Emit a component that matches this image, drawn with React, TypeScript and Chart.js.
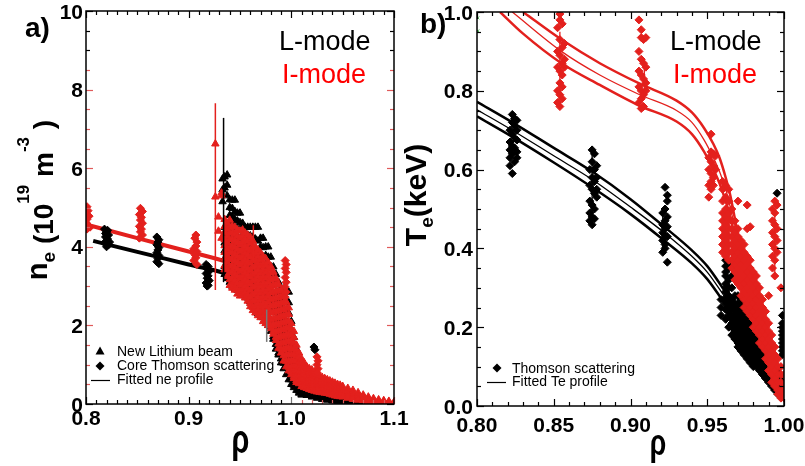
import React, { useEffect, useRef } from 'react';
import { Chart, registerables } from 'chart.js';

Chart.register(...registerables);

const FONT = "'Liberation Sans', Arial, Helvetica, sans-serif";
const RED = '#e3201d';
const LABEL_RED = '#ff0000';
const TICK_RED = '#e05a5a';

// ---------------- Panel a : density ----------------
const neXTicks = [0.8, 0.9, 1.0, 1.1];
const neYTicks = [0, 2, 4, 6, 8, 10];

// Core Thomson scattering, L-mode  [rho, ne]
const neThomsonL: number[][] = [
  [0.818, 4.45], [0.82, 4.38], [0.822, 4.3], [0.819, 4.25], [0.821, 4.2], [0.82, 4.15], [0.818, 4.1], [0.822, 4.05], [0.82, 4.0], [0.819, 4.34], [0.821, 4.42], [0.82, 4.27], [0.823, 4.12],
  [0.869, 4.25], [0.871, 4.18], [0.87, 4.12], [0.869, 4.05], [0.871, 3.98], [0.87, 3.92], [0.869, 3.85], [0.871, 3.78], [0.87, 3.7], [0.869, 3.62], [0.871, 3.57],
  [0.917, 3.55], [0.919, 3.5], [0.918, 3.44], [0.92, 3.38], [0.917, 3.32], [0.919, 3.26], [0.918, 3.2], [0.92, 3.14], [0.917, 3.08], [0.919, 3.02], [0.918, 3.0],
  [1.022, 1.45], [1.023, 1.38],
];
// Core Thomson scattering, I-mode
const neThomsonI: number[][] = [
  [0.801, 5.02], [0.802, 4.92], [0.8, 4.85], [0.803, 4.78], [0.801, 4.7], [0.8, 4.62], [0.802, 4.55], [0.804, 4.5], [0.801, 4.45],
  [0.853, 4.98], [0.855, 4.9], [0.852, 4.82], [0.854, 4.75], [0.853, 4.68], [0.855, 4.6], [0.852, 4.52], [0.854, 4.45], [0.853, 4.38], [0.855, 4.3], [0.852, 4.22],
  [0.907, 4.3], [0.906, 4.22], [0.908, 4.12], [0.907, 4.02], [0.905, 3.95], [0.908, 3.88], [0.906, 3.8], [0.907, 3.72], [0.905, 3.65], [0.908, 3.55],
  [0.994, 3.65], [0.995, 3.55], [0.994, 3.45], [0.995, 3.35], [0.994, 3.22], [0.995, 3.1], [0.994, 2.98], [0.995, 2.85], [0.994, 2.72],
  [1.025, 1.2], [1.026, 1.1], [1.025, 1.0], [1.026, 0.9], [1.025, 0.8],
];
// New Lithium beam, I-mode  [rho, ne values...]
const neLiBeamI: number[][] = [
  [0.926, 6.62, 5.27], [0.929, 4.76, 4.4], [0.932, 5.37, 5.3, 4.22],
  [0.935, 4.7, 4.52, 4.37, 4.18, 4.03, 3.86, 3.7, 3.52, 3.42],
  [0.9375, 4.6, 4.44, 4.27, 4.1, 3.94, 3.77, 3.6, 3.43, 3.25],
  [0.94, 4.68, 4.5, 4.35, 4.18, 4.0, 3.85, 3.68, 3.5, 3.34, 3.17, 3.02],
  [0.9425, 4.52, 4.36, 4.19, 4.03, 3.86, 3.7, 3.53, 3.37, 3.2, 3.05, 2.95],
  [0.945, 4.5, 4.32, 4.15, 3.98, 3.81, 3.64, 3.47, 3.3, 3.13, 2.97, 2.9],
  [0.9475, 4.43, 4.27, 4.1, 3.93, 3.76, 3.59, 3.42, 3.25, 3.08, 2.92, 2.8],
  [0.95, 4.4, 4.22, 4.05, 3.88, 3.71, 3.54, 3.37, 3.2, 3.03, 2.87, 2.75],
  [0.9525, 4.43, 4.27, 4.1, 3.93, 3.76, 3.59, 3.42, 3.25, 3.08, 2.91, 2.76],
  [0.955, 4.35, 4.18, 4.01, 3.84, 3.67, 3.5, 3.33, 3.16, 2.99, 2.83, 2.7],
  [0.9575, 4.3, 4.13, 3.96, 3.79, 3.62, 3.45, 3.28, 3.11, 2.94, 2.77, 2.62],
  [0.96, 4.25, 4.08, 3.91, 3.74, 3.57, 3.4, 3.23, 3.06, 2.89, 2.72, 2.56, 2.48],
  [0.9625, 4.15, 3.98, 3.81, 3.64, 3.47, 3.3, 3.13, 2.96, 2.79, 2.62, 2.46, 2.38],
  [0.965, 4.0, 3.84, 3.67, 3.5, 3.33, 3.16, 2.99, 2.82, 2.65, 2.48, 2.32],
  [0.9675, 3.92, 3.75, 3.58, 3.41, 3.24, 3.07, 2.9, 2.73, 2.56, 2.4, 2.25],
  [0.97, 3.85, 3.68, 3.51, 3.34, 3.17, 3.0, 2.83, 2.66, 2.49, 2.33, 2.2],
  [0.9725, 3.75, 3.58, 3.41, 3.24, 3.07, 2.9, 2.73, 2.56, 2.39, 2.23, 2.1],
  [0.975, 3.7, 3.53, 3.36, 3.19, 3.02, 2.85, 2.68, 2.51, 2.34, 2.18, 2.05],
  [0.9775, 3.6, 3.43, 3.26, 3.09, 2.92, 2.75, 2.58, 2.41, 2.24, 2.08, 2.0],
  [0.98, 3.5, 3.34, 3.17, 3.0, 2.83, 2.66, 2.49, 2.32, 2.15, 1.99, 1.92],
  [0.9825, 3.36, 3.19, 3.02, 2.85, 2.68, 2.51, 2.34, 2.17, 2.0, 1.85, 1.78],
  [0.985, 3.2, 3.04, 2.87, 2.7, 2.53, 2.36, 2.19, 2.02, 1.85, 1.7, 1.62],
  [0.9875, 3.05, 2.88, 2.71, 2.54, 2.37, 2.2, 2.03, 1.86, 1.69, 1.53, 1.42],
  [0.99, 2.9, 2.74, 2.57, 2.4, 2.23, 2.06, 1.89, 1.72, 1.55, 1.4, 1.3],
  [0.9925, 2.75, 2.58, 2.41, 2.24, 2.07, 1.9, 1.73, 1.56, 1.39, 1.23, 1.1],
  [0.995, 2.6, 2.44, 2.27, 2.1, 1.93, 1.76, 1.59, 1.42, 1.25, 1.09, 0.95],
  [0.9975, 2.45, 2.28, 2.11, 1.94, 1.77, 1.6, 1.43, 1.26, 1.09, 0.94, 0.85],
  [1.0, 2.05, 1.9, 1.74, 1.58, 1.42, 1.26, 1.1, 0.95, 0.82, 0.75],
  [1.0025, 1.85, 1.7, 1.55, 1.4, 1.25, 1.1, 0.96, 0.83, 0.7, 0.65],
  [1.005, 1.5, 1.37, 1.24, 1.11, 0.98, 0.85, 0.72, 0.6, 0.55],
  [1.0075, 1.3, 1.18, 1.06, 0.94, 0.82, 0.7, 0.6, 0.52],
  [1.01, 1.15, 1.04, 0.93, 0.82, 0.71, 0.61, 0.52, 0.45],
  [1.0125, 1.05, 0.95, 0.85, 0.75, 0.65, 0.56, 0.48, 0.42],
  [1.015, 0.95, 0.86, 0.77, 0.68, 0.59, 0.51, 0.44, 0.4],
  [1.0175, 0.9, 0.81, 0.72, 0.63, 0.55, 0.47, 0.41, 0.37],
  [1.02, 0.87, 0.78, 0.69, 0.6, 0.52, 0.45, 0.39, 0.35],
  [1.0225, 0.82, 0.73, 0.64, 0.56, 0.48, 0.41, 0.35, 0.33],
  [1.025, 0.76, 0.68, 0.6, 0.52, 0.45, 0.38, 0.31],
  [1.0275, 0.72, 0.64, 0.56, 0.48, 0.41, 0.35, 0.3],
  [1.03, 0.68, 0.6, 0.52, 0.45, 0.38, 0.32, 0.29],
  [1.0325, 0.65, 0.57, 0.49, 0.42, 0.35, 0.3, 0.28],
  [1.035, 0.62, 0.54, 0.46, 0.39, 0.33, 0.27],
  [1.0375, 0.59, 0.51, 0.44, 0.37, 0.3, 0.25],
  [1.04, 0.56, 0.48, 0.41, 0.34, 0.28, 0.23],
  [1.0425, 0.53, 0.46, 0.39, 0.32, 0.26, 0.21],
  [1.045, 0.5, 0.43, 0.36, 0.3, 0.25, 0.2],
  [1.0475, 0.48, 0.41, 0.34, 0.28, 0.23, 0.19],
  [1.05, 0.45, 0.38, 0.32, 0.26, 0.21, 0.18],
  [1.055, 0.4, 0.34, 0.28, 0.23, 0.18, 0.15],
  [1.06, 0.35, 0.29, 0.24, 0.19, 0.15, 0.12],
  [1.065, 0.29, 0.24, 0.19, 0.15, 0.12, 0.1],
  [1.07, 0.23, 0.19, 0.15, 0.12, 0.09],
  [1.075, 0.18, 0.15, 0.12, 0.09, 0.07],
  [1.08, 0.14, 0.11, 0.08, 0.06],
  [1.085, 0.11, 0.08, 0.06, 0.04],
  [1.09, 0.09, 0.06, 0.04, 0.03],
  [1.095, 0.07, 0.05, 0.03],
  [1.1, 0.05, 0.03, 0.02],
];
// New Lithium beam, L-mode
const neLiBeamL: number[][] = [
  [0.933, 5.73, 5.45, 5.15],
  [0.935, 5.78, 5.5, 4.5, 4.3, 4.1, 3.9, 3.7, 3.5, 3.3],
  [0.9375, 5.83, 5.57, 5.3, 4.4, 4.2, 4.0, 3.8, 3.6, 3.4, 3.2],
  [0.94, 5.2, 5.0, 4.8, 4.6, 4.4, 4.2, 4.0, 3.8, 3.6, 3.4, 3.2, 3.1],
  [0.9425, 5.19, 4.98, 4.77, 4.56, 4.35, 4.14, 3.93, 3.72, 3.51, 3.3, 3.1, 3.0],
  [0.945, 5.19, 4.9, 4.7, 4.5, 4.3, 4.1, 3.9, 3.7, 3.5, 3.3, 3.1, 2.95],
  [0.9475, 4.86, 4.66, 4.46, 4.26, 4.06, 3.86, 3.66, 3.46, 3.26, 3.06, 2.9],
  [0.95, 4.86, 4.62, 4.42, 4.22, 4.02, 3.82, 3.62, 3.42, 3.22, 3.02, 2.85],
  [0.9525, 4.6, 4.5, 4.3, 4.1, 3.9, 3.7, 3.5, 3.3, 3.1, 2.92, 2.8],
  [0.955, 4.5, 4.35, 4.15, 3.95, 3.75, 3.55, 3.35, 3.15, 2.95, 2.75],
  [0.9575, 4.5, 4.3, 4.1, 3.9, 3.7, 3.5, 3.3, 3.1, 2.9, 2.7],
  [0.96, 4.5, 4.28, 4.06, 3.84, 3.62, 3.4, 3.18, 2.96, 2.78, 2.6],
  [0.9625, 4.5, 4.25, 4.0, 3.78, 3.56, 3.34, 3.12, 2.9, 2.7, 2.5],
  [0.965, 4.5, 4.2, 3.95, 3.72, 3.5, 3.28, 3.06, 2.84, 2.62, 2.4],
  [0.9675, 4.5, 4.15, 3.9, 3.66, 3.44, 3.22, 3.0, 2.78, 2.56, 2.3],
  [0.97, 4.22, 4.0, 3.78, 3.56, 3.34, 3.12, 2.9, 2.68, 2.46, 2.25],
  [0.9725, 4.22, 3.98, 3.74, 3.5, 3.26, 3.02, 2.8, 2.58, 2.38, 2.2],
  [0.975, 4.0, 3.78, 3.56, 3.34, 3.12, 2.9, 2.68, 2.46, 2.28, 2.15],
  [0.9775, 4.0, 3.74, 3.5, 3.26, 3.02, 2.8, 2.58, 2.36, 2.16, 2.0],
  [0.98, 3.74, 3.5, 3.26, 3.02, 2.8, 2.58, 2.36, 2.14, 1.96, 1.85],
  [0.9825, 3.49, 3.26, 3.03, 2.8, 2.57, 2.34, 2.12, 1.9, 1.72, 1.65],
  [0.985, 3.3, 3.07, 2.84, 2.61, 2.38, 2.15, 1.92, 1.7, 1.52, 1.4],
  [0.9875, 3.1, 2.87, 2.64, 2.41, 2.18, 1.95, 1.72, 1.5, 1.3, 1.25],
  [0.99, 2.95, 2.72, 2.49, 2.26, 2.03, 1.8, 1.57, 1.35, 1.15, 1.05],
  [0.9925, 2.9, 2.66, 2.42, 2.18, 1.94, 1.7, 1.46, 1.24, 1.04, 0.9],
  [0.995, 2.9, 2.64, 2.38, 2.12, 1.86, 1.6, 1.36, 1.12, 0.92, 0.75],
  [0.9975, 2.85, 2.58, 2.31, 2.04, 1.77, 1.5, 1.25, 1.0, 0.8, 0.62],
  [1.0, 2.1, 1.88, 1.66, 1.44, 1.22, 1.0, 0.8, 0.62, 0.5],
  [1.0025, 1.7, 1.5, 1.3, 1.1, 0.92, 0.75, 0.6, 0.48, 0.42],
  [1.005, 1.4, 1.22, 1.04, 0.87, 0.71, 0.57, 0.45, 0.35],
  [1.0075, 1.1, 0.95, 0.8, 0.66, 0.53, 0.42, 0.33, 0.28],
  [1.01, 0.9, 0.77, 0.64, 0.52, 0.41, 0.32, 0.25, 0.23],
  [1.015, 0.7, 0.59, 0.48, 0.38, 0.3, 0.22],
  [1.02, 0.55, 0.46, 0.37, 0.29, 0.22, 0.18],
  [1.025, 0.45, 0.37, 0.29, 0.22, 0.15],
  [1.03, 0.38, 0.3, 0.23, 0.17, 0.12],
  [1.035, 0.3, 0.23, 0.17, 0.13, 0.1],
  [1.04, 0.25, 0.19, 0.14, 0.1, 0.08],
  [1.045, 0.2, 0.15, 0.11, 0.08, 0.06],
  [1.05, 0.15, 0.11, 0.08, 0.05],
  [1.055, 0.12, 0.09, 0.06, 0.04],
  [1.06, 0.1, 0.07, 0.05, 0.03],
  [1.065, 0.08, 0.05, 0.03],
  [1.07, 0.07, 0.04, 0.02],
  [1.075, 0.06, 0.035, 0.015],
  [1.08, 0.05, 0.03, 0.01],
  [1.085, 0.04, 0.02, 0.01],
  [1.09, 0.03, 0.02, 0.01],
  [1.095, 0.025, 0.015, 0.005],
  [1.1, 0.02, 0.01, 0.0],
];
// Fitted ne profiles
const neFitL: number[][] = [[0.807, 4.15], [0.85, 3.87], [0.9, 3.55], [0.941, 3.28], [0.96, 3.05], [0.97, 2.85], [0.98, 2.55], [0.99, 2.0], [1.0, 1.3], [1.01, 0.7], [1.02, 0.38], [1.04, 0.15], [1.06, 0.06], [1.08, 0.02], [1.1, 0.01]];
const neFitI: number[][] = [[0.8, 4.57], [0.85, 4.22], [0.9, 3.88], [0.941, 3.59], [0.96, 3.42], [0.97, 3.25], [0.98, 2.95], [0.99, 2.35], [1.0, 1.6], [1.01, 0.95], [1.02, 0.6], [1.04, 0.3], [1.06, 0.14], [1.08, 0.06], [1.1, 0.03]];
// Error bars [rho, low, high]
const neErrI: number[][] = [[0.926, 2.9, 7.65], [0.963, 3.6, 4.55]];
const neErrL: number[][] = [[0.934, 3.1, 7.28]];
const neErrGrey: number[][] = [[0.976, 1.58, 2.4]];

// ---------------- Panel b : temperature ----------------
const teXTicks = [0.8, 0.85, 0.9, 0.95, 1.0];
const teYTicks = [0, 0.2, 0.4, 0.6, 0.8, 1.0];

// Thomson scattering, L-mode  [rho, Te values...]
const teThomsonL: number[][] = [
  [0.8215, 0.7, 0.67, 0.65, 0.63, 0.61], [0.823, 0.74, 0.72, 0.69, 0.66, 0.64, 0.59],
  [0.8245, 0.73, 0.71, 0.68, 0.655, 0.62], [0.826, 0.725, 0.7, 0.675, 0.645, 0.63],
  [0.8735, 0.6, 0.56, 0.52, 0.49, 0.47], [0.875, 0.65, 0.62, 0.58, 0.55, 0.51, 0.48, 0.46],
  [0.8765, 0.64, 0.6, 0.57, 0.54, 0.5, 0.475], [0.878, 0.61, 0.58, 0.55, 0.53],
  [0.921, 0.49, 0.46, 0.44, 0.42, 0.39], [0.9225, 0.555, 0.5, 0.47, 0.45, 0.43, 0.41, 0.4],
  [0.924, 0.535, 0.52, 0.48, 0.455, 0.43, 0.365],
  [0.959, 0.27, 0.25, 0.23],
  [0.962, 0.37, 0.355, 0.34, 0.33, 0.31, 0.3, 0.29, 0.275, 0.26, 0.245, 0.22],
  [0.964, 0.36, 0.35, 0.32, 0.3, 0.28, 0.27, 0.25, 0.24, 0.23, 0.2],
  [0.966, 0.33, 0.3, 0.27, 0.26, 0.25, 0.23, 0.22, 0.21, 0.2, 0.18],
  [0.968, 0.28, 0.26, 0.25, 0.24, 0.23, 0.22, 0.21, 0.2, 0.19, 0.18, 0.17],
  [0.97, 0.28, 0.26, 0.245, 0.23, 0.22, 0.21, 0.2, 0.19, 0.18, 0.17, 0.16, 0.15],
  [0.972, 0.27, 0.25, 0.24, 0.23, 0.22, 0.21, 0.2, 0.19, 0.18, 0.17, 0.16, 0.15, 0.14],
  [0.974, 0.26, 0.245, 0.23, 0.22, 0.21, 0.2, 0.19, 0.18, 0.17, 0.16, 0.15, 0.14, 0.13],
  [0.976, 0.25, 0.24, 0.22, 0.21, 0.2, 0.19, 0.18, 0.17, 0.16, 0.15, 0.14, 0.13, 0.12],
  [0.978, 0.24, 0.22, 0.21, 0.2, 0.19, 0.18, 0.17, 0.16, 0.15, 0.14, 0.13, 0.12, 0.11],
  [0.98, 0.24, 0.22, 0.2, 0.19, 0.18, 0.17, 0.16, 0.15, 0.14, 0.13, 0.12, 0.11, 0.1],
  [0.982, 0.23, 0.21, 0.18, 0.17, 0.16, 0.15, 0.14, 0.13, 0.12, 0.11, 0.1],
  [0.984, 0.2, 0.18, 0.16, 0.15, 0.14, 0.13, 0.12, 0.11, 0.1, 0.09],
  [0.986, 0.18, 0.16, 0.14, 0.13, 0.12, 0.11, 0.1, 0.09, 0.08],
  [0.988, 0.15, 0.13, 0.12, 0.11, 0.1, 0.09, 0.08, 0.07],
  [0.99, 0.13, 0.11, 0.1, 0.09, 0.08, 0.07, 0.06],
  [0.992, 0.1, 0.09, 0.08, 0.07, 0.06, 0.05],
  [0.994, 0.09, 0.08, 0.07, 0.06, 0.05, 0.04],
  [0.996, 0.08, 0.07, 0.06, 0.05, 0.04, 0.03],
  [0.9955, 0.54],
  [0.999, 0.23, 0.21, 0.2, 0.19, 0.18, 0.17, 0.16, 0.15, 0.14, 0.13, 0.06, 0.05, 0.04, 0.03],
];
// Thomson scattering, I-mode
const teThomsonI: number[][] = [
  [0.8525, 0.96, 0.9, 0.86, 0.8, 0.77], [0.854, 0.995, 0.98, 0.93, 0.89, 0.85, 0.82, 0.79, 0.76],
  [0.8555, 0.97, 0.91, 0.87, 0.84, 0.81, 0.78], [0.857, 0.92, 0.88, 0.86],
  [0.9055, 0.98, 0.9, 0.85, 0.81, 0.77], [0.907, 0.955, 0.935, 0.88, 0.84, 0.8, 0.78, 0.755],
  [0.9085, 0.93, 0.87, 0.83, 0.79, 0.76], [0.91, 0.935, 0.86, 0.82, 0.8],
  [0.951, 0.63, 0.6, 0.56, 0.53], [0.9525, 0.69, 0.645, 0.62, 0.59, 0.57, 0.55],
  [0.954, 0.64, 0.61, 0.58, 0.56], [0.9555, 0.635, 0.6],
  [0.96, 0.57, 0.55, 0.52, 0.49, 0.47, 0.45, 0.43, 0.41, 0.39],
  [0.962, 0.56, 0.53, 0.5, 0.48, 0.46, 0.44, 0.42, 0.4, 0.38],
  [0.964, 0.55, 0.52, 0.49, 0.47, 0.45, 0.43, 0.41, 0.39, 0.37],
  [0.966, 0.5, 0.47, 0.45, 0.43, 0.41, 0.39, 0.37, 0.35],
  [0.968, 0.47, 0.44, 0.42, 0.4, 0.38, 0.36, 0.34, 0.32],
  [0.97, 0.52, 0.45, 0.43, 0.41, 0.39, 0.37, 0.35, 0.33, 0.31],
  [0.972, 0.42, 0.4, 0.38, 0.36, 0.34, 0.32, 0.3, 0.28],
  [0.974, 0.41, 0.39, 0.37, 0.35, 0.33, 0.31, 0.29, 0.27, 0.25],
  [0.976, 0.51, 0.45, 0.38, 0.36, 0.34, 0.32, 0.3, 0.28, 0.26, 0.24],
  [0.978, 0.455, 0.37, 0.35, 0.33, 0.31, 0.29, 0.27, 0.25, 0.23],
  [0.98, 0.34, 0.32, 0.3, 0.28, 0.26, 0.24, 0.22, 0.2],
  [0.982, 0.33, 0.31, 0.29, 0.27, 0.25, 0.23, 0.21, 0.19],
  [0.984, 0.3, 0.28, 0.26, 0.24, 0.22, 0.2, 0.18, 0.16],
  [0.986, 0.27, 0.25, 0.23, 0.21, 0.19, 0.17, 0.15],
  [0.988, 0.24, 0.22, 0.2, 0.18, 0.16, 0.14, 0.12],
  [0.99, 0.28, 0.21, 0.19, 0.17, 0.15, 0.13, 0.11, 0.09],
  [0.992, 0.18, 0.16, 0.14, 0.12, 0.1, 0.08, 0.06],
  [0.994, 0.15, 0.13, 0.11, 0.09, 0.07, 0.05],
  [0.996, 0.12, 0.1, 0.08, 0.06, 0.04, 0.03],
  [0.998, 0.3, 0.1, 0.08, 0.06, 0.04, 0.02],
  [1.0, 0.08, 0.05, 0.03, 0.02],
  [0.9925, 0.5, 0.47, 0.44, 0.41, 0.38, 0.35],
  [0.994, 0.52, 0.49, 0.46, 0.43, 0.4, 0.37, 0.33],
  [0.9955, 0.51, 0.45, 0.42, 0.39],
];
// Fitted Te profiles (upper / centre / lower)
const teFitLUpper: number[][] = [[0.8, 0.772], [0.823, 0.72], [0.85, 0.655], [0.875, 0.595], [0.9, 0.525], [0.922, 0.455], [0.94, 0.395], [0.95, 0.355], [0.96, 0.3], [0.965, 0.27], [0.97, 0.235], [0.98, 0.18], [0.99, 0.125], [1.0, 0.075]];
const teFitLMid: number[][] = [[0.8, 0.752], [0.823, 0.7], [0.85, 0.635], [0.875, 0.575], [0.9, 0.505], [0.922, 0.44], [0.94, 0.38], [0.95, 0.34], [0.96, 0.285], [0.965, 0.255], [0.97, 0.22], [0.98, 0.168], [0.99, 0.115], [1.0, 0.068]];
const teFitLLower: number[][] = [[0.8, 0.735], [0.823, 0.683], [0.85, 0.618], [0.875, 0.555], [0.9, 0.487], [0.922, 0.42], [0.94, 0.362], [0.95, 0.322], [0.96, 0.268], [0.965, 0.24], [0.97, 0.205], [0.98, 0.155], [0.99, 0.105], [1.0, 0.06]];
const teFitIUpper: number[][] = [[0.83, 1.0], [0.855, 0.93], [0.88, 0.87], [0.906, 0.818], [0.93, 0.775], [0.94, 0.745], [0.948, 0.705], [0.954, 0.665], [0.958, 0.63], [0.962, 0.58], [0.965, 0.535], [0.968, 0.475], [0.971, 0.41], [0.975, 0.34], [0.98, 0.28], [0.985, 0.22], [0.99, 0.16], [0.995, 0.11], [1.0, 0.07]];
const teFitIMid: number[][] = [[0.823, 1.0], [0.855, 0.9], [0.88, 0.84], [0.906, 0.79], [0.93, 0.75], [0.94, 0.72], [0.948, 0.675], [0.954, 0.63], [0.958, 0.595], [0.962, 0.55], [0.965, 0.505], [0.968, 0.45], [0.971, 0.39], [0.975, 0.32], [0.98, 0.26], [0.985, 0.2], [0.99, 0.145], [0.995, 0.1], [1.0, 0.06]];
const teFitILower: number[][] = [[0.815, 1.0], [0.83, 0.945], [0.855, 0.87], [0.88, 0.815], [0.906, 0.762], [0.93, 0.722], [0.94, 0.69], [0.948, 0.645], [0.954, 0.6], [0.958, 0.565], [0.962, 0.52], [0.965, 0.48], [0.968, 0.425], [0.971, 0.37], [0.975, 0.3], [0.98, 0.24], [0.985, 0.18], [0.99, 0.13], [0.995, 0.09], [1.0, 0.05]];
const teErrI: number[][] = [[0.854, 0.78, 0.95], [0.909, 0.78, 0.88], [0.994, 0.33, 0.5]];
const teErrL: number[][] = [[0.875, 0.48, 0.66], [0.921, 0.39, 0.49]];
const teGreenMarks: number[][] = [[0.8005, 0.985], [0.8005, 0.952]];

// ---------------- helpers ----------------
type Pt = { x: number; y: number | null };
const pairs = (arr: number[][]): Pt[] => arr.map(([x, y]) => ({ x, y }));
const columns = (cols: number[][]): Pt[] => cols.flatMap(([x, ...ys]) => ys.map((y) => ({ x, y })));
const bars = (arr: number[][]): Pt[] => arr.flatMap(([x, lo, hi]) => [{ x, y: lo }, { x, y: hi }, { x, y: null }]);

const pointsDs = (data: Pt[], style: string, color: string, r: number, order: number) => ({
  data, showLine: false, pointStyle: style, pointRadius: r, pointHoverRadius: r,
  pointBackgroundColor: color, pointBorderColor: color, pointBorderWidth: 1, order,
});
const curveDs = (data: Pt[], color: string, width: number, order: number, smooth = true) => ({
  data, showLine: true, borderColor: color, borderWidth: width, pointRadius: 0, pointHoverRadius: 0,
  cubicInterpolationMode: smooth ? 'monotone' : 'default', tension: 0, spanGaps: false, fill: false, order,
});

function steps(min: number, max: number, step: number): number[] {
  const n = Math.round((max - min) / step);
  const out: number[] = [];
  for (let i = 0; i <= n; i++) out.push(min + i * step);
  return out;
}
const isMajor = (v: number, majors: number[]) => majors.some((m) => Math.abs(m - v) < 1e-6);

interface FrameSpec {
  xMin: number; xMax: number; xMajor: number[]; xMinor: number; xDigits: number; xLabelBaseline: number;
  yMin: number; yMax: number; yMajor: number[]; yMinor: number; yDigits: number; yLabelRight: number;
  xTickColor: (v: number, side: string) => string;
  yTickColor: (v: number) => string;
  decorate: (ctx: CanvasRenderingContext2D) => void;
}

function framePlugin(id: string, s: FrameSpec) {
  return {
    id,
    afterDraw(chart: any) {
      const ctx: CanvasRenderingContext2D = chart.ctx;
      const { left, right, top, bottom } = chart.chartArea;
      const xs = chart.scales.x;
      const ys = chart.scales.y;
      ctx.save();
      ctx.lineWidth = 1.2;
      for (const v of steps(s.xMin, s.xMax, s.xMinor)) {
        const px = Math.round(xs.getPixelForValue(v)) + 0.5;
        const len = isMajor(v, s.xMajor) ? 7 : 4;
        ctx.strokeStyle = s.xTickColor(v, 'bottom');
        ctx.beginPath(); ctx.moveTo(px, bottom); ctx.lineTo(px, bottom - len); ctx.stroke();
        ctx.strokeStyle = s.xTickColor(v, 'top');
        ctx.beginPath(); ctx.moveTo(px, top); ctx.lineTo(px, top + len); ctx.stroke();
      }
      for (const v of steps(s.yMin, s.yMax, s.yMinor)) {
        const py = Math.round(ys.getPixelForValue(v)) + 0.5;
        const len = isMajor(v, s.yMajor) ? 7 : 4;
        ctx.strokeStyle = s.yTickColor(v);
        ctx.beginPath(); ctx.moveTo(left, py); ctx.lineTo(left + len, py); ctx.stroke();
        ctx.beginPath(); ctx.moveTo(right, py); ctx.lineTo(right - len, py); ctx.stroke();
      }
      ctx.strokeStyle = '#000';
      ctx.lineWidth = 1.5;
      ctx.strokeRect(left, top, right - left, bottom - top);

      ctx.fillStyle = '#000';
      ctx.font = `bold 21px ${FONT}`;
      ctx.textBaseline = 'alphabetic';
      ctx.textAlign = 'center';
      for (const v of s.xMajor) ctx.fillText(v.toFixed(s.xDigits), xs.getPixelForValue(v), s.xLabelBaseline);
      ctx.textAlign = 'right';
      for (const v of s.yMajor) ctx.fillText(v.toFixed(s.yDigits), s.yLabelRight, ys.getPixelForValue(v) + 7.5);

      s.decorate(ctx);
      ctx.restore();
    },
  };
}

type Part = { t: string; size: number; dy: number };
function drawRotated(ctx: CanvasRenderingContext2D, cx: number, cy: number, parts: Part[]) {
  ctx.save();
  ctx.translate(cx, cy);
  ctx.rotate(-Math.PI / 2);
  ctx.textAlign = 'left';
  ctx.textBaseline = 'alphabetic';
  ctx.fillStyle = '#000';
  let total = 0;
  for (const p of parts) { ctx.font = `bold ${p.size}px ${FONT}`; total += ctx.measureText(p.t).width; }
  let cur = -total / 2;
  for (const p of parts) {
    ctx.font = `bold ${p.size}px ${FONT}`;
    ctx.fillText(p.t, cur, p.dy);
    cur += ctx.measureText(p.t).width;
  }
  ctx.restore();
}
function drawRho(ctx: CanvasRenderingContext2D, cx: number, base: number, size: number) {
  ctx.save();
  ctx.translate(cx, base);
  ctx.scale(0.72, 1);
  ctx.font = `bold ${size}px ${FONT}`;
  ctx.textAlign = 'center';
  ctx.textBaseline = 'alphabetic';
  ctx.fillStyle = '#000';
  ctx.fillText('ρ', 0, 0);
  ctx.restore();
}
function legendTri(ctx: CanvasRenderingContext2D, x: number, y: number) {
  ctx.beginPath(); ctx.moveTo(x, y - 4.5); ctx.lineTo(x + 4.5, y + 3.5); ctx.lineTo(x - 4.5, y + 3.5); ctx.closePath(); ctx.fill();
}
function legendDiamond(ctx: CanvasRenderingContext2D, x: number, y: number) {
  ctx.beginPath(); ctx.moveTo(x, y - 4.5); ctx.lineTo(x + 4.5, y); ctx.lineTo(x, y + 4.5); ctx.lineTo(x - 4.5, y); ctx.closePath(); ctx.fill();
}

function decorateA(ctx: CanvasRenderingContext2D) {
  ctx.textAlign = 'left';
  ctx.textBaseline = 'alphabetic';
  ctx.fillStyle = '#000';
  ctx.font = `bold 28px ${FONT}`;
  ctx.fillText('a)', 25, 37);
  ctx.font = `27px ${FONT}`;
  ctx.fillText('L-mode', 279, 50);
  ctx.fillStyle = LABEL_RED;
  ctx.fillText('I-mode', 282, 83);
  ctx.fillStyle = '#000';
  ctx.font = `14px ${FONT}`;
  ctx.textBaseline = 'middle';
  legendTri(ctx, 100, 351);
  ctx.fillText('New Lithium beam', 117, 352);
  legendDiamond(ctx, 100, 366);
  ctx.fillText('Core Thomson scattering', 117, 366);
  ctx.strokeStyle = '#000'; ctx.lineWidth = 1.2;
  ctx.beginPath(); ctx.moveTo(91, 380.5); ctx.lineTo(110, 380.5); ctx.stroke();
  ctx.fillText('Fitted ne profile', 117, 380);
  drawRotated(ctx, 53, 200, [
    { t: 'n', size: 29, dy: -6 }, { t: 'e', size: 19, dy: 2 }, { t: ' (10', size: 28, dy: 0 },
    { t: '19', size: 17, dy: -24 }, { t: ' m', size: 28, dy: 0 }, { t: '-3', size: 17, dy: -24 }, { t: ' )', size: 28, dy: 0 },
  ]);
  drawRho(ctx, 240.5, 453, 40);
}
function decorateB(ctx: CanvasRenderingContext2D) {
  ctx.textAlign = 'left';
  ctx.textBaseline = 'alphabetic';
  ctx.fillStyle = '#000';
  ctx.font = `bold 28px ${FONT}`;
  ctx.fillText('b)', 20, 33);
  ctx.font = `27px ${FONT}`;
  ctx.fillText('L-mode', 270, 50);
  ctx.fillStyle = LABEL_RED;
  ctx.fillText('I-mode', 273, 83);
  ctx.fillStyle = '#000';
  ctx.font = `14px ${FONT}`;
  ctx.textBaseline = 'middle';
  legendDiamond(ctx, 97, 368);
  ctx.fillText('Thomson scattering', 112, 369);
  ctx.strokeStyle = '#000'; ctx.lineWidth = 1.2;
  ctx.beginPath(); ctx.moveTo(87, 382.5); ctx.lineTo(106, 382.5); ctx.stroke();
  ctx.fillText('Fitted Te profile', 112, 382);
  drawRotated(ctx, 26, 195, [
    { t: 'T', size: 30, dy: 0 }, { t: 'e', size: 19, dy: 7 }, { t: '(keV)', size: 30, dy: 0 },
  ]);
  drawRho(ctx, 258, 455, 37);
}

function baseOptions(padding: any, xMin: number, xMax: number, yMin: number, yMax: number) {
  return {
    animation: false as const,
    responsive: false,
    devicePixelRatio: 1,
    events: [] as any[],
    layout: { padding },
    plugins: { legend: { display: false }, tooltip: { enabled: false }, title: { display: false } },
    scales: {
      x: { type: 'linear' as const, display: false, min: xMin, max: xMax },
      y: { type: 'linear' as const, display: false, min: yMin, max: yMax },
    },
  };
}

export default function App() {
  const aRef = useRef<HTMLCanvasElement>(null);
  const bRef = useRef<HTMLCanvasElement>(null);

  useEffect(() => {
    const chartA = new Chart(aRef.current!, {
      type: 'scatter',
      data: {
        datasets: [
          curveDs(bars(neErrI), RED, 1.5, 0, false),
          curveDs(bars(neErrL), '#000', 1.5, 0, false),
          curveDs(bars(neErrGrey), '#777', 1.5, 0, false),
          pointsDs(pairs(neThomsonI), 'rectRot', RED, 4, 1),
          pointsDs(pairs(neThomsonL), 'rectRot', '#000', 4, 2),
          pointsDs(columns(neLiBeamI), 'triangle', RED, 4.3, 3),
          pointsDs(columns(neLiBeamL), 'triangle', '#000', 4.3, 4),
          curveDs(pairs(neFitI), RED, 4, 5),
          curveDs(pairs(neFitL), '#000', 4, 6),
        ] as any,
      },
      options: baseOptions({ left: 86, right: 16, top: 11, bottom: 62 }, 0.8, 1.1, 0, 10) as any,
      plugins: [framePlugin('frameA', {
        xMin: 0.8, xMax: 1.1, xMajor: neXTicks, xMinor: 0.01, xDigits: 1, xLabelBaseline: 425,
        yMin: 0, yMax: 10, yMajor: neYTicks, yMinor: 0.5, yDigits: 0, yLabelRight: 83,
        xTickColor: (v, side) => (side === 'bottom' && v > 1.0005 ? TICK_RED : side === 'bottom' && Math.abs(v - 1) < 1e-6 ? '#777' : '#000'),
        yTickColor: (v) => (v >= 0.49 && v <= 8.51 ? TICK_RED : '#000'),
        decorate: decorateA,
      })],
    });

    const chartB = new Chart(bRef.current!, {
      type: 'scatter',
      data: {
        datasets: [
          curveDs(bars(teErrI), RED, 1.3, 0, false),
          curveDs(bars(teErrL), '#000', 1.3, 0, false),
          pointsDs(columns(teThomsonI), 'rectRot', RED, 4, 1),
          pointsDs(columns(teThomsonL), 'rectRot', '#000', 4, 2),
          curveDs(pairs(teFitIUpper), RED, 2.5, 3),
          curveDs(pairs(teFitIMid), RED, 1.3, 3),
          curveDs(pairs(teFitILower), RED, 2.5, 3),
          curveDs(pairs(teFitLUpper), '#000', 2.5, 4),
          curveDs(pairs(teFitLMid), '#000', 1.3, 4),
          curveDs(pairs(teFitLLower), '#000', 2.5, 4),
          pointsDs(pairs(teGreenMarks), 'crossRot', '#3cb043', 2, 5),
        ] as any,
      },
      options: baseOptions({ left: 77, right: 21, top: 12, bottom: 60 }, 0.8, 1.0, 0, 1.0) as any,
      plugins: [framePlugin('frameB', {
        xMin: 0.8, xMax: 1.0, xMajor: teXTicks, xMinor: 0.01, xDigits: 2, xLabelBaseline: 432,
        yMin: 0, yMax: 1.0, yMajor: teYTicks, yMinor: 0.05, yDigits: 1, yLabelRight: 73,
        xTickColor: () => '#000',
        yTickColor: () => '#000',
        decorate: decorateB,
      })],
    });

    return () => { chartA.destroy(); chartB.destroy(); };
  }, []);

  return (
    <div style={{ position: 'absolute', left: 0, top: 0, width: 805, height: 466, background: '#fff', overflow: 'hidden' }}>
      <canvas ref={aRef} width={410} height={466} style={{ position: 'absolute', left: 0, top: 0, width: 410, height: 466 }} />
      <canvas ref={bRef} width={405} height={466} style={{ position: 'absolute', left: 400, top: 0, width: 405, height: 466 }} />
    </div>
  );
}
